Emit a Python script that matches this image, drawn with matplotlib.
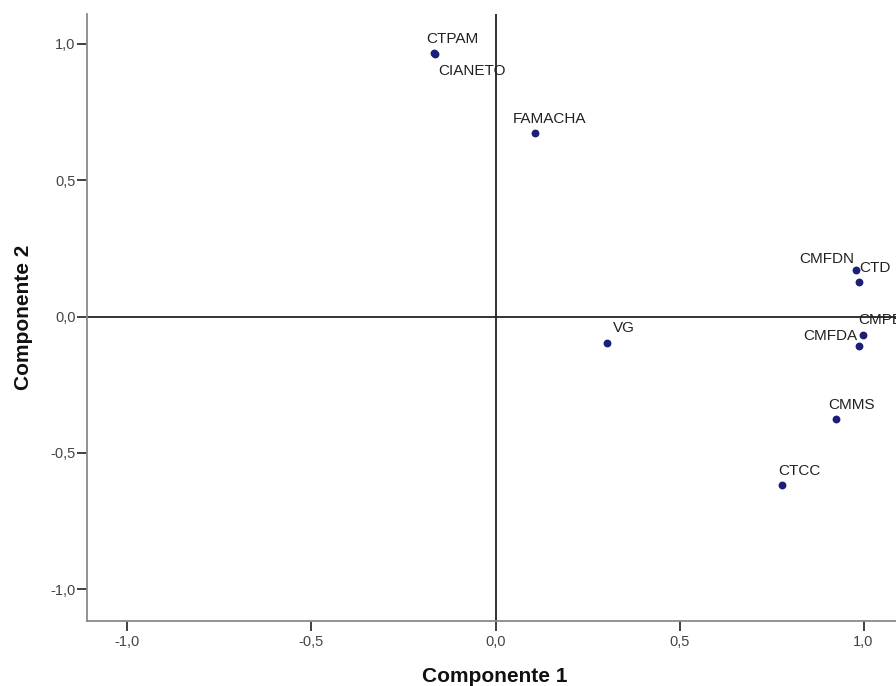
import numpy as np
import matplotlib
matplotlib.use("Agg")
import matplotlib.pyplot as plt

plt.rcParams['font.family'] = ['Liberation Sans', 'DejaVu Sans']

# component loadings
variables = ["CTPAM", "CIANETO", "FAMACHA", "CMFDN", "CTD", "CMPB",
             "CMFDA", "VG", "CMMS", "CTCC"]
comp1 = [-0.166, -0.164, 0.107, 0.980, 0.987, 0.998, 0.989, 0.302, 0.924, 0.779]
comp2 = [0.967, 0.965, 0.673, 0.170, 0.125, -0.066, -0.107, -0.098, -0.375, -0.617]

ticks = [-1.0, -0.5, 0.0, 0.5, 1.0]

# label placement relative to each point (pixels)
label_offsets = {
    "CTPAM": (-8, 10), "CIANETO": (3, -21), "FAMACHA": (-22, 10),
    "CMFDN": (-57, 7), "CTD": (1, 10), "CMPB": (-5, 11),
    "CMFDA": (-56, 6), "VG": (6, 11), "CMMS": (-7, 10), "CTCC": (-4, 10),
}

W, H = 896, 686
fig = plt.figure(figsize=(W / 100, H / 100), dpi=100)
ax = fig.add_axes([87 / W, 1 - 620.7 / H, 817 / W, 606.7 / H])

ax.set_xlim(-1.11, 1.11)
ax.set_ylim(-1.116, 1.11)

ax.axhline(0, color="#222222", lw=1.3, zorder=1)
ax.axvline(0, color="#222222", lw=1.3, zorder=1)

ax.scatter(comp1, comp2, s=32, color="#1c1f78", zorder=3, linewidths=0)

for name, x, y in zip(variables, comp1, comp2):
    dx, dy = label_offsets[name]
    ax.annotate(name, (x, y), xytext=(dx, dy), textcoords="offset pixels",
                ha="left", va="baseline", fontsize=11, color="#222222",
                zorder=4)

for side in ["top", "right"]:
    ax.spines[side].set_visible(False)
for side in ["left", "bottom"]:
    ax.spines[side].set_color("#8a8a8a")
    ax.spines[side].set_linewidth(1.3)

fmt = lambda v: f"{v:.1f}".replace(".", ",")
ax.set_xticks(ticks)
ax.set_yticks(ticks)
ax.set_xticklabels([fmt(t) for t in ticks])
ax.set_yticklabels([fmt(t) for t in ticks])
ax.tick_params(direction="out", length=7.2, width=1.3, color="#333333",
               labelsize=10.5, labelcolor="#444444")
ax.tick_params(axis="y", pad=1)
ax.tick_params(axis="x", pad=3)

ax.set_xlabel("Componente 1", fontsize=15, fontweight="bold", color="#111111")
ax.set_ylabel("Componente 2", fontsize=15, fontweight="bold", color="#111111")
ax.xaxis.set_label_coords(495 / W, 1 - 676 / H, transform=fig.transFigure)
ax.yaxis.set_label_coords(24 / W, 1 - 317 / H, transform=fig.transFigure)
ax.xaxis.label.set_va("center")
ax.yaxis.label.set_va("center")

fig.savefig("out.png", dpi=100)
